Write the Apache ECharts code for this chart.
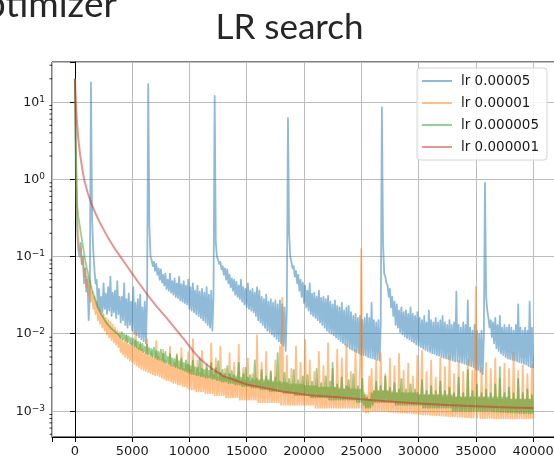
<!DOCTYPE html>
<html><head><meta charset="utf-8">
<script src="https://cdn.jsdelivr.net/npm/echarts@6/dist/echarts.min.js"></script>
<style>html,body{margin:0;padding:0;background:#fff}#c{width:554px;height:458px}</style>
</head><body><div id="c"></div>
<script>
// training step spacing of the sampled loss arrays below (one row = 2000 steps)
const STEP = 100;
// lr 0.00005 (blue)
const lossLr5e5 = [
20,0.5,0.2,0.12,0.1,0.15,0.08,0.1,0.045,0.07,0.035,0.05,0.015,0.03,18,0.3,0.12,0.07,0.045,0.05,
0.022,0.038,0.02,0.03,0.019,0.045,0.021,0.033,0.018,0.04,0.02,0.055,0.017,0.034,0.019,0.036,0.016,0.048,0.018,0.03,
0.014,0.03,0.015,0.045,0.013,0.028,0.012,0.033,0.013,0.026,0.011,0.04,0.01,0.025,0.0095,0.028,0.009,0.032,0.0085,0.022,
0.008,0.026,0.0075,0.03,17,0.25,0.1,0.09,0.075,0.085,0.065,0.08,0.058,0.07,0.05,0.068,0.046,0.058,0.042,0.06,
0.038,0.05,0.036,0.06,0.034,0.048,0.032,0.052,0.03,0.045,0.029,0.055,0.027,0.044,0.026,0.048,0.025,0.042,0.024,0.05,
0.021,0.04,0.02,0.045,0.019,0.036,0.018,0.042,0.017,0.035,0.016,0.038,0.015,0.034,0.014,0.04,0.013,0.032,0.012,0.036,
0.011,0.03,12,0.15,0.1,0.09,0.08,0.085,0.068,0.075,0.058,0.07,0.05,0.068,0.045,0.058,0.04,0.052,0.036,0.05,
0.032,0.047,0.03,0.042,0.028,0.05,0.026,0.04,0.024,0.038,0.022,0.045,0.021,0.036,0.02,0.038,0.019,0.034,0.017,0.04,
0.015,0.036,0.014,0.03,0.013,0.028,0.012,0.032,0.011,0.026,0.0105,0.028,0.0098,0.025,0.0092,0.027,0.0086,0.024,0.008,0.027,
0.0075,0.024,0.007,0.022,0.006,0.02,6.2,0.2,0.1,0.085,0.07,0.075,0.055,0.065,0.045,0.058,0.036,0.05,0.03,0.046,
0.025,0.042,0.022,0.036,0.02,0.045,0.018,0.033,0.017,0.034,0.016,0.03,0.015,0.036,0.014,0.029,0.013,0.03,0.012,0.028,
0.011,0.031,0.0105,0.026,0.01,0.024,0.0095,0.027,0.009,0.023,0.0085,0.022,0.008,0.025,0.0076,0.02,0.0072,0.022,0.0068,0.023,
0.0064,0.019,0.0062,0.017,0.006,0.018,0.0058,0.016,0.0056,0.017,0.0054,0.015,0.0053,0.016,0.0052,0.018,0.005,0.016,0.0049,0.025,
0.0048,0.015,0.0047,0.014,0.0046,0.015,0.0045,0.013,8.5,0.15,0.06,0.055,0.045,0.042,0.03,0.038,0.022,0.03,0.017,0.026,
0.013,0.024,0.012,0.02,0.0105,0.022,0.0098,0.019,0.0092,0.02,0.0088,0.018,0.0084,0.022,0.008,0.018,0.0077,0.017,0.0073,0.019,
0.007,0.016,0.0067,0.015,0.0064,0.017,0.0062,0.014,0.006,0.02,0.0058,0.015,0.0056,0.014,0.0055,0.016,0.0053,0.014,0.0052,0.015,
0.005,0.017,0.0049,0.014,0.0048,0.013,0.0047,0.015,0.0046,0.013,0.0045,0.014,0.0044,0.035,0.0044,0.013,0.0043,0.012,0.0042,0.014,
0.0041,0.013,0.004,0.027,0.0039,0.012,0.0038,0.011,0.0037,0.013,0.0035,0.011,0.0034,0.01,0.0032,0.011,0.003,0.009,0.9,0.03,
0.02,0.016,0.012,0.015,0.009,0.014,0.0075,0.016,0.0065,0.013,0.006,0.017,0.0056,0.012,0.0053,0.013,0.005,0.012,0.0048,0.013,
0.0047,0.012,0.0046,0.011,0.0045,0.013,0.0044,0.024,0.0043,0.012,0.0042,0.011,0.0041,0.012,0.004,0.011,0.0038,0.026,0.0037,0.012,
0.0036];
// lr 0.00001 (orange)
const lossLr1e5 = [
20,1.5,0.3,0.18,0.12,0.13,0.08,0.095,0.055,0.07,0.04,0.055,0.032,0.042,0.026,0.035,0.021,0.03,0.018,0.026,
0.015,0.022,0.0135,0.02,0.012,0.018,0.011,0.016,0.0098,0.015,0.009,0.014,0.0083,0.013,0.0077,0.012,0.0072,0.011,0.0067,0.0105,
0.0058,0.0085,0.0054,0.0078,0.005,0.0095,0.0048,0.0072,0.0045,0.0075,0.0043,0.0068,0.0041,0.011,0.0039,0.0065,0.0037,0.0072,0.0035,0.0062,
0.0034,0.0055,0.0033,0.0085,0.0032,0.005,0.0031,0.0058,0.003,0.0048,0.0029,0.008,0.0029,0.005,0.0028,0.0046,0.0027,0.0062,0.0026,0.0045,
0.0025,0.004,0.0025,0.0068,0.0024,0.0038,0.0023,0.0042,0.0023,0.0055,0.0022,0.0036,0.0022,0.0065,0.0021,0.0035,0.0021,0.004,0.002,0.0058,
0.0019,0.0034,0.0019,0.0085,0.0019,0.003,0.0018,0.0045,0.0018,0.0031,0.0018,0.006,0.0018,0.0029,0.0017,0.0036,0.0017,0.0028,0.0017,0.0075,
0.0017,0.0029,0.0016,0.0048,0.0016,0.0027,0.0016,0.0068,0.0016,0.0028,0.0016,0.0035,0.0015,0.0026,0.0015,0.0056,0.0015,0.0027,0.0015,0.0042,
0.0015,0.0026,0.0015,0.0072,0.0014,0.0025,0.0014,0.0036,0.0014,0.0025,0.0014,0.0048,0.0014,0.0024,0.0014,0.003,0.0014,0.0025,0.0014,0.0095,
0.0013,0.0024,0.0013,0.0042,0.0013,0.0023,0.0013,0.0058,0.0013,0.0024,0.0013,0.0033,0.0013,0.0023,0.0013,0.0045,0.0013,0.0023,0.0013,0.0068,
0.0012,0.029,0.0012,0.0023,0.0012,0.0052,0.0012,0.0022,0.0012,0.0035,0.0012,0.0022,0.0012,0.0068,0.0012,0.0022,0.0012,0.0042,0.0012,0.0022,
0.0012,0.0083,0.0012,0.0021,0.0012,0.0045,0.0012,0.0021,0.0012,0.0032,0.0011,0.0021,0.0011,0.0058,0.0011,0.002,0.0011,0.0038,0.0011,0.002,
0.0011,0.0075,0.0011,0.002,0.0011,0.0035,0.0011,0.002,0.0011,0.0062,0.0011,0.002,0.0011,0.0048,0.0011,0.0019,0.0011,0.0073,0.0011,0.002,
0.0011,0.0032,0.0011,0.0019,0.0011,0.0062,0.0011,0.0019,0.0011,0.0042,0.125,0.0011,0.001,0.0017,0.00095,0.0016,0.00095,0.0028,0.001,0.0035,
0.001,0.0018,0.001,0.0045,0.001,0.0018,0.001,0.0056,0.001,0.0018,0.001,0.003,0.001,0.0018,0.00098,0.0048,0.00098,0.0018,0.00097,0.0038,
0.00097,0.0017,0.00096,0.0055,0.00096,0.0017,0.00095,0.0033,0.00095,0.0017,0.00094,0.0041,0.00094,0.0017,0.00093,0.0028,0.00093,0.0017,0.00093,0.0052,
0.00092,0.0016,0.00091,0.006,0.0009,0.0016,0.0009,0.0032,0.0009,0.0016,0.00089,0.0045,0.00089,0.0016,0.00088,0.0027,0.00088,0.0016,0.00088,0.0048,
0.00087,0.0015,0.00087,0.0037,0.00086,0.0015,0.00086,0.0052,0.00085,0.0015,0.00085,0.003,0.00085,0.0015,0.00084,0.0044,0.00084,0.0015,0.00084,0.0032,
0.00083,0.0015,0.00083,0.0046,0.00083,0.0015,0.00082,0.0033,0.00082,0.0015,0.04,0.00082,0.00082,0.0015,0.00081,0.0036,0.00081,0.0015,0.00081,0.0042,
0.00081,0.0014,0.00081,0.0035,0.00081,0.0014,0.0008,0.0048,0.0008,0.0014,0.0008,0.0026,0.0008,0.0014,0.0008,0.0041,0.0008,0.0014,0.0008,0.0035,
0.0008,0.0014,0.0008,0.0056,0.0008,0.0014,0.0008,0.0033,0.0008,0.0014,0.0008,0.0039,0.0008,0.0014,0.0008,0.003,0.0008,0.0014,0.0008,0.004,
0.0008];
// lr 0.000005 (green)
const lossLr5e6 = [
20,2.0,0.45,0.33,0.26,0.21,0.17,0.135,0.11,0.09,0.075,0.065,0.055,0.048,0.042,0.037,0.033,0.03,0.027,0.024,
0.022,0.0205,0.019,0.018,0.017,0.016,0.015,0.0142,0.0135,0.013,0.0125,0.012,0.0115,0.0112,0.011,0.0106,0.0103,0.01,0.0098,0.0095,
0.0088,0.0105,0.0084,0.0098,0.0081,0.0095,0.0078,0.0092,0.0075,0.0088,0.0072,0.0086,0.0069,0.0082,0.0066,0.0079,0.0063,0.0076,0.0061,0.0074,
0.0058,0.0068,0.0056,0.0072,0.0054,0.0065,0.0052,0.0063,0.005,0.0066,0.0049,0.006,0.0047,0.0058,0.0046,0.0062,0.0045,0.0055,0.0043,0.0058,
0.0042,0.005,0.0041,0.0055,0.0039,0.0048,0.0038,0.0047,0.0037,0.0052,0.0036,0.0044,0.0035,0.0048,0.0034,0.0042,0.0033,0.0045,0.0032,0.004,
0.0031,0.0038,0.003,0.0045,0.003,0.0037,0.0029,0.0036,0.0029,0.0048,0.0028,0.0035,0.0028,0.0034,0.0027,0.004,0.0027,0.0033,0.0027,0.0042,
0.0026,0.0032,0.0026,0.0036,0.0025,0.0044,0.0025,0.0031,0.0024,0.0034,0.0024,0.003,0.0024,0.0038,0.0023,0.003,0.0023,0.0033,0.0023,0.0029,
0.0022,0.0028,0.0022,0.0042,0.0022,0.0027,0.0021,0.003,0.0021,0.0036,0.0021,0.0027,0.0021,0.0029,0.002,0.0026,0.002,0.0045,0.002,0.0026,
0.002,0.0025,0.0019,0.0034,0.0019,0.0025,0.0019,0.0028,0.0019,0.0025,0.0018,0.0032,0.0018,0.0024,0.0018,0.0027,0.0018,0.0056,0.0018,0.0024,
0.0018,0.0023,0.0017,0.0031,0.0017,0.0023,0.0017,0.0026,0.0017,0.0022,0.0017,0.0034,0.0016,0.0022,0.0016,0.0025,0.0016,0.0022,0.0016,0.0028,
0.0016,0.0021,0.0016,0.0029,0.0016,0.0021,0.0015,0.0024,0.0015,0.0021,0.0015,0.0035,0.0015,0.002,0.0015,0.0023,0.0015,0.002,0.0015,0.0028,
0.0015,0.002,0.0014,0.0024,0.0014,0.0042,0.0014,0.002,0.0014,0.0022,0.0014,0.0019,0.0014,0.0027,0.0014,0.0019,0.0014,0.0021,0.0014,0.0025,
0.0014,0.0019,0.0014,0.003,0.0014,0.0019,0.0013,0.0021,0.0013,0.0019,0.0013,0.0026,0.0012,0.0016,0.0011,0.0015,0.0011,0.0014,0.0011,0.0017,
0.0012,0.0018,0.0013,0.0024,0.0013,0.0018,0.0013,0.0021,0.0013,0.0018,0.0013,0.0028,0.0013,0.0018,0.0013,0.002,0.0013,0.0017,0.0013,0.0023,
0.0012,0.0017,0.0012,0.0019,0.0012,0.0026,0.0012,0.0017,0.0012,0.0019,0.0012,0.0017,0.0012,0.0022,0.0012,0.0017,0.0012,0.0019,0.0012,0.0017,
0.0012,0.0016,0.0012,0.0025,0.0011,0.0016,0.0011,0.0018,0.0011,0.0016,0.0011,0.0021,0.0011,0.0016,0.0011,0.0018,0.0011,0.0016,0.0011,0.0024,
0.0011,0.0016,0.0011,0.0018,0.0011,0.0016,0.0011,0.002,0.0011,0.0016,0.001,0.0017,0.001,0.0015,0.001,0.0027,0.001,0.0015,0.001,0.0017,
0.001,0.0015,0.001,0.0034,0.001,0.0015,0.001,0.0018,0.001,0.0015,0.001,0.0022,0.001,0.0015,0.001,0.0017,0.001,0.0015,0.001,0.0019,
0.001,0.0015,0.001,0.0017,0.00099,0.0015,0.00099,0.0022,0.00098,0.0015,0.00098,0.0037,0.00097,0.0015,0.00097,0.0017,0.00097,0.0015,0.00096,0.002,
0.00096,0.0014,0.00095,0.0017,0.00095,0.0014,0.00095,0.0026,0.00094,0.0014,0.00094,0.0017,0.00094,0.0014,0.00094,0.0019,0.00093,0.0014,0.00093,0.0016,
0.00093];
// lr 0.000001 (red), smooth curve: steps and losses
const stepsLr1e6 = [0,80,180,300,450,600,800,1100,1400,1800,2200,2600,3000,3500,4000,4500,5000,5600,6400,7200,8000,8800,9600,10300,11000,12000,13000,14000,15000,16500,18000,20500,23000,26000,29000,32000,35000,38000,40000];
const lossLr1e6 = [20,10,5.5,3.3,2.1,1.5,1.0,0.68,0.5,0.36,0.27,0.21,0.165,0.125,0.098,0.077,0.06,0.045,0.031,0.022,0.016,0.0115,0.0082,0.006,0.0046,0.0035,0.0028,0.0025,0.0022,0.002,0.0018,0.0016,0.0015,0.00138,0.00128,0.0012,0.00115,0.00111,0.00109];

const seriesNames = ['lr 0.00005','lr 0.00001','lr 0.000005','lr 0.000001'];
const seriesColors = ['#1f77b4','#ff7f0e','#2ca02c','#d62728'];
const legendColors = ['#8fbbd9','#ffbf86','#95cf95','#ea9393'];
const xTickValues = [0,5000,10000,15000,20000,25000,30000,35000,40000];
const yMinorTicks = [5e-4,6e-4,7e-4,8e-4,9e-4,
  2e-3,3e-3,4e-3,5e-3,6e-3,7e-3,8e-3,9e-3,
  2e-2,3e-2,4e-2,5e-2,6e-2,7e-2,8e-2,9e-2,
  0.2,0.3,0.4,0.5,0.6,0.7,0.8,0.9,
  2,3,4,5,6,7,8,9,
  20,30];
const X_MIN = -2000, X_MAX = 42000, Y_MIN = 4.6e-4, Y_MAX = 33;

const toPairs = arr => arr.map((v, i) => [i * STEP, v]);
const dataList = [
  toPairs(lossLr5e5),
  toPairs(lossLr1e5),
  toPairs(lossLr5e6),
  stepsLr1e6.map((s, i) => [s, lossLr1e6[i]])
];

const chart = echarts.init(document.getElementById('c'), null, {renderer: 'canvas'});
const supMinus = n => (n < 0 ? '\u2212' + (-n) : String(n));

const lineSeries = seriesNames.map((name, k) => ({
  name,
  type: 'line',
  data: dataList[k],
  showSymbol: false,
  symbol: 'none',
  smooth: false,
  animation: false,
  lineStyle: {color: seriesColors[k], width: k === 3 ? 2 : 1.8, opacity: 0.5, join: 'round'},
  itemStyle: {color: legendColors[k]},
  z: 2 + k
}));

chart.setOption({
  animation: false,
  backgroundColor: '#fff',
  textStyle: {fontFamily: 'DejaVu Sans'},
  graphic: [
    {type: 'text', x: 289.5, y: 27.6, style: {text: 'LR search', font: '35px Lato', fill: '#262626', align: 'center', verticalAlign: 'middle'}},
    {type: 'text', x: 117, y: 4.7, style: {text: 'Optimizer', font: '37px Lato', fill: '#262626', align: 'right', verticalAlign: 'middle'}}
  ],
  grid: {left: 52, top: 62, width: 504, height: 375, containLabel: false, outerBoundsMode: 'none',
    show: true, borderColor: '#000', borderWidth: 1, backgroundColor: '#fff'},
  legend: {
    orient: 'vertical', left: 417, top: 68,
    itemWidth: 30, itemHeight: 2, itemGap: 8,
    padding: [6, 8, 6, 5],
    backgroundColor: 'rgba(255,255,255,0.85)', borderColor: '#d4d4d4', borderWidth: 1, borderRadius: 3,
    textStyle: {fontFamily: 'DejaVu Sans', fontSize: 13.5, color: '#1a1a1a', padding: [0, 0, 0, 4]},
    data: seriesNames.map((n, k) => ({name: n, icon: 'rect', itemStyle: {color: legendColors[k], opacity: 1}}))
  },
  xAxis: {
    type: 'value', min: X_MIN, max: X_MAX, splitNumber: 9,
    axisLine: {show: true, lineStyle: {color: '#000', width: 1}},
    axisTick: {show: true, length: 5, lineStyle: {color: '#000'}},
    axisLabel: {margin: 8, fontSize: 13, color: '#1a1a1a', fontFamily: 'DejaVu Sans',
      formatter: v => (xTickValues.indexOf(v) >= 0 ? String(v) : '')},
    splitLine: {show: true, lineStyle: {color: '#bdbdbd', width: 1}}
  },
  yAxis: {
    type: 'log', logBase: 10, min: Y_MIN, max: Y_MAX,
    axisLine: {show: true, lineStyle: {color: '#000', width: 1}},
    axisTick: {show: true, length: 5, lineStyle: {color: '#000'}},
    axisLabel: {margin: 7, color: '#1a1a1a', fontFamily: 'DejaVu Sans',
      formatter: v => {
        const e = Math.log10(v), r = Math.round(e);
        if (Math.abs(e - r) > 1e-6) return '';
        return '{b|10}{s|' + supMinus(r) + '}';
      },
      rich: {
        b: {fontSize: 12.5, lineHeight: 14, verticalAlign: 'bottom', fontFamily: 'DejaVu Sans', color: '#1a1a1a'},
        s: {fontSize: 9, lineHeight: 8, verticalAlign: 'top', fontFamily: 'DejaVu Sans', color: '#1a1a1a'}
      }
    },
    splitLine: {show: true, lineStyle: {color: '#bdbdbd', width: 1}}
  },
  series: lineSeries.concat([{
    type: 'custom',
    silent: true,
    clip: false,
    z: 20,
    renderItem: (params, api) => {
      const p = api.coord([api.value(0), api.value(1)]);
      return {type: 'line', shape: {x1: p[0] - 2.5, y1: p[1], x2: p[0], y2: p[1]}, style: {stroke: '#000', lineWidth: 0.8}};
    },
    data: yMinorTicks.map(v => [X_MIN, v])
  }])
});
</script>
</body></html>
